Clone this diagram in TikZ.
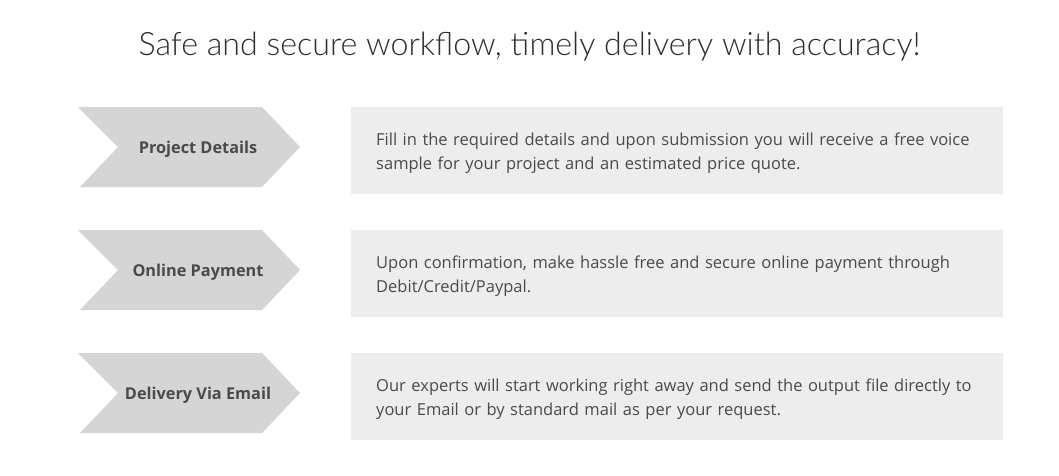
\documentclass[tikz,border=0pt]{standalone}
\usepackage{fontspec}
\setmainfont{Open Sans}
\newfontfamily\titlefont{Lato Light}
\definecolor{chev}{HTML}{D5D5D5}
\definecolor{boxbg}{HTML}{EDEDED}
\definecolor{txt}{HTML}{4A4A4A}
\definecolor{ttl}{HTML}{2E2E2E}
\begin{document}
\begin{tikzpicture}[x=1pt,y=-1pt,
  chevron/.style={fill=chev,draw=none},
  desc/.style={fill=boxbg,draw=none},
  steplabel/.style={font=\fontsize{16.3}{20}\selectfont\bfseries,text=txt,inner sep=0pt},
  desctext/.style={font=\fontsize{16.5}{24}\selectfont,text=txt,text width=640pt,align=left,inner sep=0pt,anchor=west}]
\fill[white] (0,0) rectangle (1059,475);
\useasboundingbox (0,0) rectangle (1059,475);
\node[font=\titlefont\fontsize{32.2}{36}\selectfont,text=ttl,inner sep=0pt] (title) at (529.5,47) {Safe and secure workflow, timely delivery with accuracy!};
\foreach \i/\y/\lab/\d in {
  1/107/{Project Details}/{Fill in the required details and upon submission you will receive a free voice\\sample for your project and an estimated price quote.},
  2/230/{Online Payment}/{Upon confirmation, make hassle free and secure online payment through\\Debit/Credit/Paypal.},
  3/353/{Delivery Via Email}/{Our experts will start working right away and send the output file directly to\\your Email or by standard mail as per your request.}}{
  \fill[chevron] (78,\y) -- (262,\y) -- (300,\y+40) -- (262,\y+80) -- (80,\y+80) -- (118,\y+40) -- cycle;
  \node[steplabel] (step\i) at (198,\y+42) {\lab};
  \fill[desc] (351,\y) rectangle (1003,\y+87);
  \node[desctext] (desc\i) at (376,\y+46) {\d};
}
\end{tikzpicture}
\end{document}
